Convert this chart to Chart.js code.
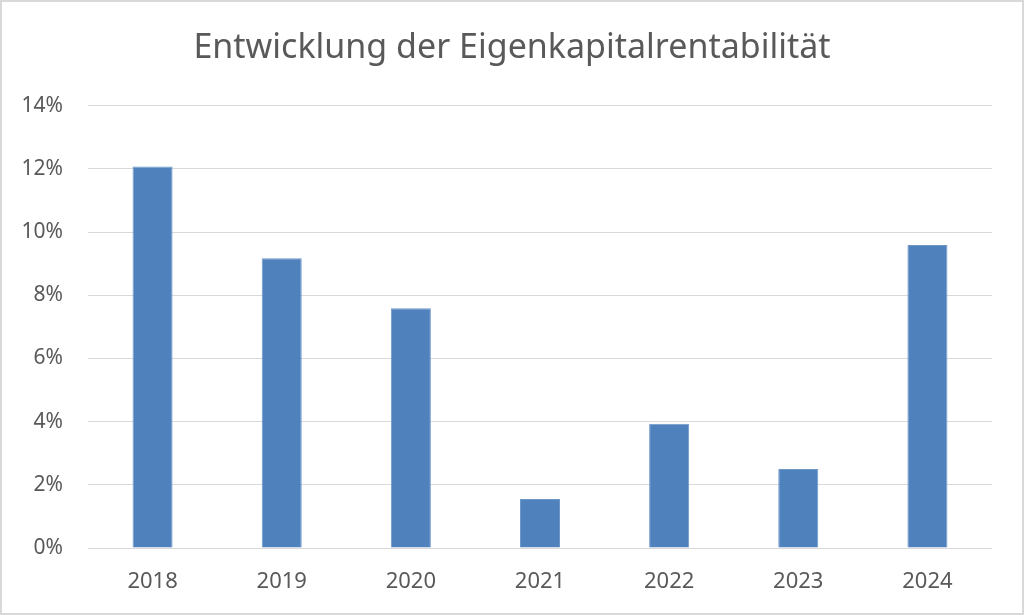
<!DOCTYPE html>
<html>
<head>
<meta charset="utf-8">
<script src="https://cdn.jsdelivr.net/npm/chart.js@4.4.1/dist/chart.umd.min.js"></script>
<style>
  html, body { margin: 0; padding: 0; background: #ffffff; }
  #wrap { width: 1024px; height: 615px; position: relative; }
  canvas { display: block; }
</style>
</head>
<body>
<div id="wrap"><canvas id="c" width="1024" height="615"></canvas></div>
<script>
const titleText = 'Entwicklung der Eigenkapitalrentabilität';
const categories = ['2018', '2019', '2020', '2021', '2022', '2023', '2024'];
const returnOnEquity = [12.08, 9.17, 7.59, 1.55, 3.93, 2.50, 9.59];
const yTicks = [0, 2, 4, 6, 8, 10, 12, 14];

const FONT = '"Noto Sans", "DejaVu Sans", sans-serif';
const TEXT = '#595959';

const borderPlugin = {
  id: 'outerBorder',
  afterDraw(chart) {
    const ctx = chart.ctx;
    ctx.save();
    ctx.strokeStyle = '#d9d9d9';
    ctx.lineWidth = 2;
    ctx.strokeRect(1, 1, chart.width - 2, chart.height - 2);
    ctx.restore();
  }
};

new Chart(document.getElementById('c'), {
  type: 'bar',
  data: {
    labels: categories,
    datasets: [{
      label: 'Eigenkapitalrentabilität',
      data: returnOnEquity,
      backgroundColor: '#4f81bd',
      borderColor: '#6f98c8',
      borderWidth: 1,
      categoryPercentage: 1.0,
      barPercentage: 0.31,
      yAxisID: 'y'
    }]
  },
  options: {
    responsive: false,
    animation: false,
    devicePixelRatio: 1,
    layout: { padding: { left: 0, right: 0, top: 0, bottom: 0 } },
    plugins: {
      legend: { display: false },
      tooltip: { enabled: false },
      title: {
        display: true,
        text: titleText,
        color: TEXT,
        font: { family: FONT, size: 34, weight: 'normal' },
        padding: { top: 28, bottom: 37 }
      }
    },
    scales: {
      x: {
        grid: { display: false, drawTicks: false },
        border: { display: false },
        ticks: { color: TEXT, font: { family: FONT, size: 22 }, padding: 21, maxRotation: 0 },
        afterFit(scale) { scale.height = 67; }
      },
      y: {
        position: 'left',
        min: 0,
        max: 14,
        afterBuildTicks(scale) { scale.ticks = yTicks.map(v => ({ value: v })); },
        grid: { color: '#d9d9d9', lineWidth: 1, drawTicks: false },
        border: { display: false },
        ticks: {
          color: TEXT,
          font: { family: FONT, size: 21 },
          padding: 25,
          callback: v => v + '%'
        },
        afterFit(scale) { scale.width = 88; }
      },
      spacer: {
        position: 'right',
        min: 0,
        max: 14,
        grid: { display: false, drawTicks: false },
        border: { display: false },
        ticks: { display: false },
        afterFit(scale) { scale.width = 32; }
      }
    }
  },
  plugins: [borderPlugin]
});
</script>
</body>
</html>
